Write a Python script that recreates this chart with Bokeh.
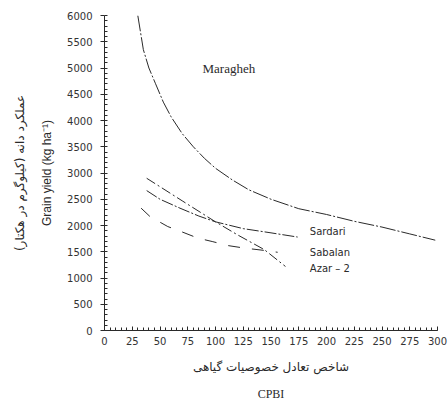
from bokeh.plotting import figure
from bokeh.models import FixedTicker, Label, LinearAxis
from bokeh.embed import file_html
from bokeh.resources import INLINE

# Data
maragheh_x = [30, 35, 40, 46, 53, 60, 70, 80, 90, 100, 115, 130, 150, 175, 200, 225, 250, 275, 298]
maragheh_y = [6000, 5350, 5000, 4700, 4350, 4070, 3750, 3500, 3280, 3090, 2870, 2680, 2500, 2320, 2210, 2080, 1970, 1840, 1720]

sardari_x = [38, 50, 68, 85, 100, 125, 150, 174]
sardari_y = [2665, 2500, 2330, 2180, 2070, 1940, 1860, 1780]

sabalan_x = [33, 41, 57, 69, 84, 97, 112, 126, 144, 156]
sabalan_y = [2330, 2170, 1980, 1885, 1760, 1695, 1615, 1570, 1525, 1490]

azar_x = [38, 70, 100, 120, 144, 163]
azar_y = [2900, 2470, 2070, 1820, 1540, 1220]

x_ticks = list(range(0, 301, 25))
y_ticks = list(range(0, 6001, 500))

ink = "#2a2a2a"

p = figure(width=448, height=403, x_range=(0, 300), y_range=(0, 6000),
           output_backend="svg", toolbar_location=None,
           min_border_left=104, min_border_right=11, min_border_top=15, min_border_bottom=72)
p.outline_line_color = None
p.xgrid.grid_line_color = None
p.ygrid.grid_line_color = None
p.background_fill_color = "white"
p.border_fill_color = "white"

p.xaxis.ticker = FixedTicker(ticks=x_ticks, minor_ticks=list(range(0, 301, 5)))
p.yaxis.ticker = FixedTicker(ticks=y_ticks, minor_ticks=list(range(0, 6001, 100)))
for ax in (p.xaxis, p.yaxis):
    ax.axis_line_color = ink
    ax.major_tick_line_color = ink
    ax.minor_tick_line_color = ink
    ax.major_label_text_font = "DejaVu Sans"
    ax.major_label_text_font_size = "10px"
    ax.major_label_text_color = "#333333"
    ax.axis_label_text_color = ink
    ax.axis_label_text_font_style = "normal"
p.xaxis.major_tick_in = 4
p.xaxis.major_tick_out = 0
p.xaxis.minor_tick_in = 3
p.xaxis.minor_tick_out = 0
p.xaxis.major_label_standoff = 6
p.yaxis.major_tick_in = 0
p.yaxis.major_tick_out = 4
p.yaxis.minor_tick_in = 3
p.yaxis.minor_tick_out = 0
p.yaxis.major_label_standoff = 8

p.xaxis.axis_label = "شاخص تعادل خصوصیات گیاهی"
p.xaxis.axis_label_text_font = "DejaVu Sans"
p.xaxis.axis_label_text_font_size = "12px"
p.xaxis.axis_label_standoff = 12

p.yaxis.axis_label = "Grain yield (kg ha\u207b\u00b9)"
p.yaxis.axis_label_text_font = "Liberation Sans"
p.yaxis.axis_label_text_font_size = "12px"
p.yaxis.axis_label_standoff = 10


def label_axis(text, font, size, standoff):
    a = LinearAxis(ticker=FixedTicker(ticks=[]), axis_label=text)
    a.axis_line_color = None
    a.major_tick_line_color = None
    a.minor_tick_line_color = None
    a.major_label_text_font_size = "0px"
    a.axis_label_text_font = font
    a.axis_label_text_font_size = size
    a.axis_label_text_font_style = "normal"
    a.axis_label_text_color = ink
    a.axis_label_standoff = standoff
    return a

p.add_layout(label_axis("عملکرد دانه (کیلوگرم در هکتار)", "DejaVu Sans", "12px", 11), "left")
p.add_layout(label_axis("CPBI", "Liberation Serif", "12px", 10), "below")

p.line(maragheh_x, maragheh_y, line_color=ink, line_width=1, line_dash="16 2 2 2")
p.line(sardari_x, sardari_y, line_color=ink, line_width=1, line_dash="12 2 2 2")
p.line(sabalan_x, sabalan_y, line_color=ink, line_width=1, line_dash="12 12")
p.line(azar_x, azar_y, line_color=ink, line_width=1, line_dash="10 3 2 3")


def lab(text, x, y, font, size, align="left"):
    p.add_layout(Label(x=x, y=y, text=text, text_font=font, text_font_size=size,
                       text_align=align, text_baseline="middle", text_color=ink))

lab("Maragheh", 112, 5000, "Liberation Serif", "13px", "center")
lab("Sardari", 185, 1880, "DejaVu Sans", "10px")
lab("Sabalan", 185, 1480, "DejaVu Sans", "10px")
lab("Azar \u2013 2", 185, 1190, "DejaVu Sans", "10px")

open("out.html", "w").write(file_html(p, INLINE))
